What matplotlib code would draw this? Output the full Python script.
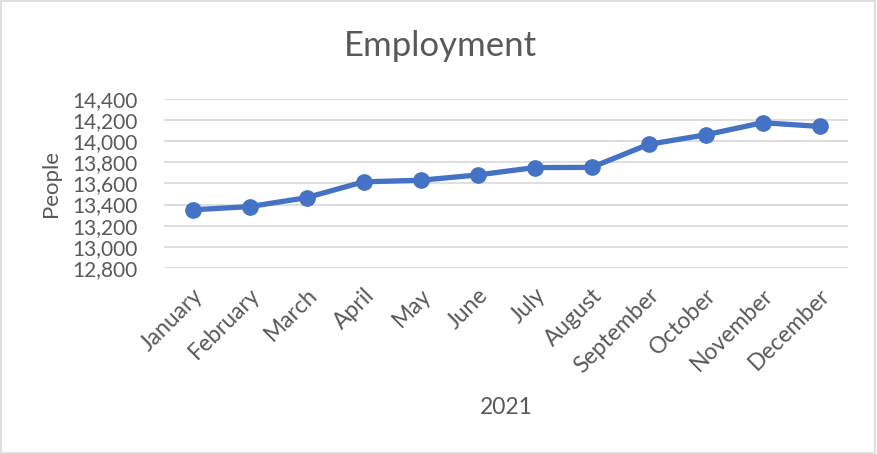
import matplotlib.pyplot as plt
from matplotlib.patches import Rectangle
from matplotlib.ticker import FuncFormatter

months = ['January', 'February', 'March', 'April', 'May', 'June', 'July',
          'August', 'September', 'October', 'November', 'December']
people = [13350, 13380, 13465, 13615, 13630, 13680, 13750, 13752,
          13970, 14060, 14175, 14140]
y_ticks = [12800, 13000, 13200, 13400, 13600, 13800, 14000, 14200, 14400]

plt.rcParams['font.family'] = ['Lato', 'DejaVu Sans']
txt = '#595959'

fig = plt.figure(figsize=(8.77, 4.54), dpi=100)
ax = fig.add_axes([0.187, 0.410, 0.780, 0.372])

x = list(range(len(months)))
ax.plot(x, people, color='#4472C4', lw=3.8, marker='o', ms=11,
        solid_capstyle='round', zorder=3)

ax.set_xlim(-0.5, len(months) - 0.5)
ax.set_ylim(y_ticks[0], y_ticks[-1])
ax.set_yticks(y_ticks)
ax.yaxis.set_major_formatter(FuncFormatter(lambda v, p: f'{int(v):,}'))
ax.grid(axis='y', color='#D9D9D9', lw=1.2)
ax.set_axisbelow(True)
for s in ax.spines.values():
    s.set_visible(False)
ax.tick_params(length=0, labelsize=15, colors=txt, pad=19)
ax.tick_params(axis='x', pad=12, labelsize=16.5)
ax.set_xticks(x)
ax.set_xticklabels(months, rotation=45, ha='right', va='top',
                   rotation_mode='anchor')

ax.set_ylabel('People', fontsize=16, color=txt, labelpad=8)
ax.set_xlabel('2021', fontsize=16.5, color=txt, labelpad=14)
fig.text(0.502, 0.898, 'Employment', fontsize=25, color=txt,
         ha='center', va='center')

fig.patches.append(Rectangle((0.001, 0.002), 0.997, 0.996,
                             transform=fig.transFigure, fill=False,
                             ec='#D9D9D9', lw=1.2))

fig.savefig('out.png', dpi=100)
